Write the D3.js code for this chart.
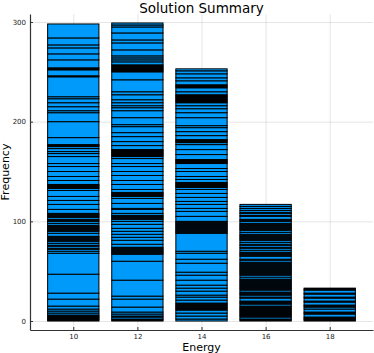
<!DOCTYPE html>
<html>
<head>
<meta charset="utf-8">
<script src="https://cdn.jsdelivr.net/npm/d3@7"></script>
<style>
  body { margin: 0; background: #fff; }
  svg { display: block; font-family: 'DejaVu Sans', sans-serif; }
</style>
</head>
<body>
<svg id="chart" width="374" height="353"></svg>
<script>
// energy bins (bar centres) and the stacked solution counts inside each bar, bottom to top
const energies = [10, 12, 14, 16, 18]

const counts10 = [1,1,1,1,1,1,2,2,2,3,7,6,19,21,2,2,1,2,1,2,2,1,1,1,1,1,3,2,1,1,1,1,1,1,2,2,1,1,2,1,1,1,1,4,5,4,4,6,2,1,1,1,1,4,4,5,5,3,7,3,2,3,2,1,1,7,16,9,2,4,4,4,2,20,1,6,1,1,8,6,6,3,7,14]
const counts12 = [1,1,2,1,2,2,5,8,3,16,19,7,1,1,1,1,1,1,1,3,4,3,3,3,3,4,3,2,1,1,1,1,2,4,1,5,5,2,1,1,1,1,3,5,4,5,4,5,3,5,2,1,1,1,1,1,1,1,4,4,5,4,6,2,7,7,3,2,3,3,5,3,12,8,1,1,1,1,1,1,1,3,2,2,2,6,7,3,7,6,2,2]
const counts14 = [2,3,3,3,1,1,1,1,1,1,1,3,3,2,4,3,3,5,5,3,9,4,6,2,18,1,1,1,1,1,1,1,1,1,1,1,1,5,5,3,4,3,4,4,4,2,1,1,1,1,1,3,3,5,3,5,1,1,1,1,5,5,5,2,1,1,1,4,4,4,2,8,5,4,3,3,1,1,1,1,1,1,1,1,3,4,1,1,1,4,3,4,3,2]
const counts16 = [1,1,2,1,1,1,1,1,1,1,1,1,1,1,2,1,1,1,3,1,2,1,1,1,2,1,1,1,1,1,1,1,1,1,1,1,2,2,1,1,1,1,1,1,1,1,1,1,1,1,1,2,1,3,1,1,1,1,2,2,1,2,1,2,2,1,1,1,1,1,1,2,2,1,1,1,1,1,1,1,2,1,1,3,1,2,1,2,2,2,2]
const counts18 = [1,1,1,1,3,1,1,3,2,1,1,3,1,3,1,3,1,3,1,1]

const xTicks = [10, 12, 14, 16, 18]
const yTicks = [0, 100, 200, 300]

const binWidth = 2
const barFrac = 0.8

const svg = d3.select('#chart')
const m = { left: 30, right: 373, top: 14, bottom: 330 }

const x = d3.scaleLinear().domain([8.65, 19.35]).range([m.left, m.right])
const y = d3.scaleLinear().domain([-9, 308]).range([m.bottom, m.top])

// grid
svg.append('g')
    .attr('transform', `translate(0,${m.bottom})`)
    .call(d3.axisBottom(x).tickValues(xTicks).tickSize(-(m.bottom - m.top)).tickFormat(''))
    .call((g) => g.select('.domain').remove())
    .selectAll('line')
    .attr('stroke', '#000')
    .attr('stroke-opacity', 0.1)

svg.append('g')
    .attr('transform', `translate(${m.left},0)`)
    .call(d3.axisLeft(y).tickValues(yTicks).tickSize(-(m.right - m.left)).tickFormat(''))
    .call((g) => g.select('.domain').remove())
    .selectAll('line')
    .attr('stroke', '#000')
    .attr('stroke-opacity', 0.1)

// stacked bars
const bins = [counts10, counts12, counts14, counts16, counts18].map((c, i) => {
    const ends = d3.cumsum(c)
    return c.map((v, j) => ({ e: energies[i], y0: ends[j] - v, y1: ends[j] }))
})

const half = (binWidth * barFrac) / 2

svg.append('g')
    .selectAll('g')
    .data(bins)
    .join('g')
    .selectAll('rect')
    .data((d) => d)
    .join('rect')
    .attr('x', (d) => x(d.e - half))
    .attr('width', (d) => x(d.e + half) - x(d.e - half))
    .attr('y', (d) => y(d.y1))
    .attr('height', (d) => y(d.y0) - y(d.y1))
    .attr('fill', '#009afa')
    .attr('stroke', '#000')
    .attr('stroke-width', 1)

// axes
const xAxis = svg.append('g')
    .attr('transform', `translate(0,${m.bottom})`)
    .call(d3.axisBottom(x).tickValues(xTicks).tickSizeInner(-3).tickSizeOuter(0).tickPadding(4))
const yAxis = svg.append('g')
    .attr('transform', `translate(${m.left},0)`)
    .call(d3.axisLeft(y).tickValues(yTicks).tickSizeInner(-3).tickSizeOuter(0).tickPadding(4))

for (const g of [xAxis, yAxis]) {
    g.attr('font-family', 'DejaVu Sans').attr('font-size', 7)
    g.select('.domain').attr('stroke', '#333').attr('stroke-width', 1.2)
    g.selectAll('.tick line').attr('stroke', '#333')
    g.selectAll('.tick text').attr('fill', '#222')
}

// titles
svg.append('text')
    .attr('x', (m.left + m.right) / 2)
    .attr('y', 13)
    .attr('text-anchor', 'middle')
    .attr('font-size', 13.5)
    .text('Solution Summary')

svg.append('text')
    .attr('x', (m.left + m.right) / 2)
    .attr('y', 351)
    .attr('text-anchor', 'middle')
    .attr('font-size', 11)
    .text('Energy')

svg.append('text')
    .attr('transform', `translate(9,${(m.top + m.bottom) / 2}) rotate(-90)`)
    .attr('text-anchor', 'middle')
    .attr('font-size', 11)
    .text('Frequency')
</script>
</body>
</html>
